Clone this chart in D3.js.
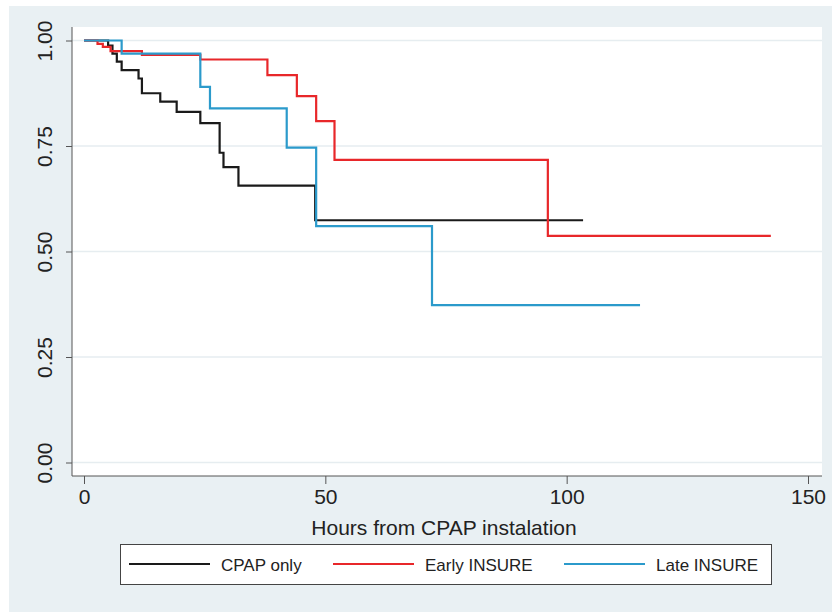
<!DOCTYPE html>
<html>
<head>
<meta charset="utf-8">
<script src="https://cdn.jsdelivr.net/npm/d3@7"></script>
<style>
  body { margin: 0; background: #fff; }
  text { font-family: "Liberation Sans", Arial, sans-serif; fill: #222; }
</style>
</head>
<body>
<div id="chart"></div>
<script>
// Kaplan-Meier steps (hours, survival)
const cpapTime  = [0, 5.0, 5.9, 6.8, 7.8, 11.3, 12.0, 15.8, 19.2, 24.1, 28.1, 28.9, 32.0, 47.9, 103.4];
const cpapSurv  = [1, 0.988, 0.969, 0.950, 0.930, 0.910, 0.875, 0.855, 0.831, 0.804, 0.734, 0.700, 0.656, 0.574, 0.574];
const earlyTime = [0, 2.8, 3.9, 5.5, 12.0, 24.1, 38.0, 44.1, 48.1, 51.9, 96.1, 142.3];
const earlySurv = [1, 0.992, 0.985, 0.975, 0.966, 0.955, 0.918, 0.868, 0.809, 0.717, 0.537, 0.537];
const lateTime  = [0, 7.8, 24.1, 26.1, 42.0, 48.1, 72.1, 115.2];
const lateSurv  = [1, 0.969, 0.890, 0.839, 0.746, 0.560, 0.373, 0.373];

const seriesNames  = ["CPAP only", "Early INSURE", "Late INSURE"];
const seriesColors = ["#1a1a1a", "#e8272a", "#2b9acb"];
const xTicks = [0, 50, 100, 150];
const yTicks = [0, 0.25, 0.5, 0.75, 1];

const W = 832, H = 612;
const plotL = 72, plotR = 822, plotT = 27, plotB = 476;

const svg = d3.select("#chart").append("svg")
  .attr("width", W).attr("height", H);

// outer graph region
svg.append("rect").attr("x", 9).attr("y", 6)
  .attr("width", W - 9).attr("height", H - 6).attr("fill", "#e9f0f3");
svg.append("rect").attr("x", plotL).attr("y", plotT)
  .attr("width", plotR - plotL).attr("height", plotB - plotT).attr("fill", "#fff");

const x = d3.scaleLinear().domain([0, 150]).range([84, 808]);
const y = d3.scaleLinear().domain([0, 1]).range([462.5, 40.5]);

// gridlines
svg.append("g").selectAll("line").data(yTicks).enter().append("line")
  .attr("x1", plotL).attr("x2", plotR)
  .attr("y1", d => y(d)).attr("y2", d => y(d))
  .attr("stroke", "#e6edf0").attr("stroke-width", 1.5);

// axes
const xAxis = svg.append("g").attr("transform", "translate(0," + plotB + ")")
  .call(d3.axisBottom(x).tickValues(xTicks).tickSize(8).tickPadding(5).tickFormat(d3.format("d")));
xAxis.select(".domain").attr("d", "M" + plotL + ",0H" + plotR);
xAxis.selectAll("line").attr("stroke", "#555");
xAxis.select(".domain").attr("stroke", "#555");
xAxis.selectAll("text").style("font-size", "21px").attr("fill", "#222");

const yAxis = svg.append("g").attr("transform", "translate(" + plotL + ",0)")
  .call(d3.axisLeft(y).tickValues(yTicks).tickSize(6).tickFormat(d3.format(".2f")));
yAxis.select(".domain").attr("d", "M0," + plotT + "V" + plotB).attr("stroke", "#555");
yAxis.selectAll("line").attr("stroke", "#555");
yAxis.selectAll("text")
  .style("font-size", "21px").attr("fill", "#222")
  .attr("text-anchor", "middle")
  .attr("transform", "translate(-20,0) rotate(-90)")
  .attr("x", 0).attr("dy", "0");

// axis title
svg.append("text").attr("x", (plotL + plotR) / 2 - 3).attr("y", 535)
  .attr("text-anchor", "middle").style("font-size", "21px")
  .text("Hours from CPAP instalation");

// curves
const series = [
  d3.zip(cpapTime, cpapSurv),
  d3.zip(earlyTime, earlySurv),
  d3.zip(lateTime, lateSurv)
];
const line = d3.line().x(d => x(d[0])).y(d => y(d[1])).curve(d3.curveStepAfter);

svg.append("g").selectAll("path").data(series).enter().append("path")
  .attr("d", line)
  .attr("fill", "none")
  .attr("stroke", (d, i) => seriesColors[i])
  .attr("stroke-width", 2.2);

// legend
const leg = svg.append("g");
leg.append("rect").attr("x", 120.5).attr("y", 544.5)
  .attr("width", 651).attr("height", 40)
  .attr("fill", "#fff").attr("stroke", "#444").attr("stroke-width", 1);
const legX = [129, 333, 564];
const item = leg.selectAll("g.item").data(seriesNames).enter().append("g")
  .attr("transform", (d, i) => "translate(" + legX[i] + ",564)");
item.append("line").attr("x1", 0).attr("x2", 81)
  .attr("stroke", (d, i) => seriesColors[i]).attr("stroke-width", 2);
item.append("text").attr("x", 92).attr("y", 6.5)
  .style("font-size", "17px").text(d => d);
</script>
</body>
</html>
